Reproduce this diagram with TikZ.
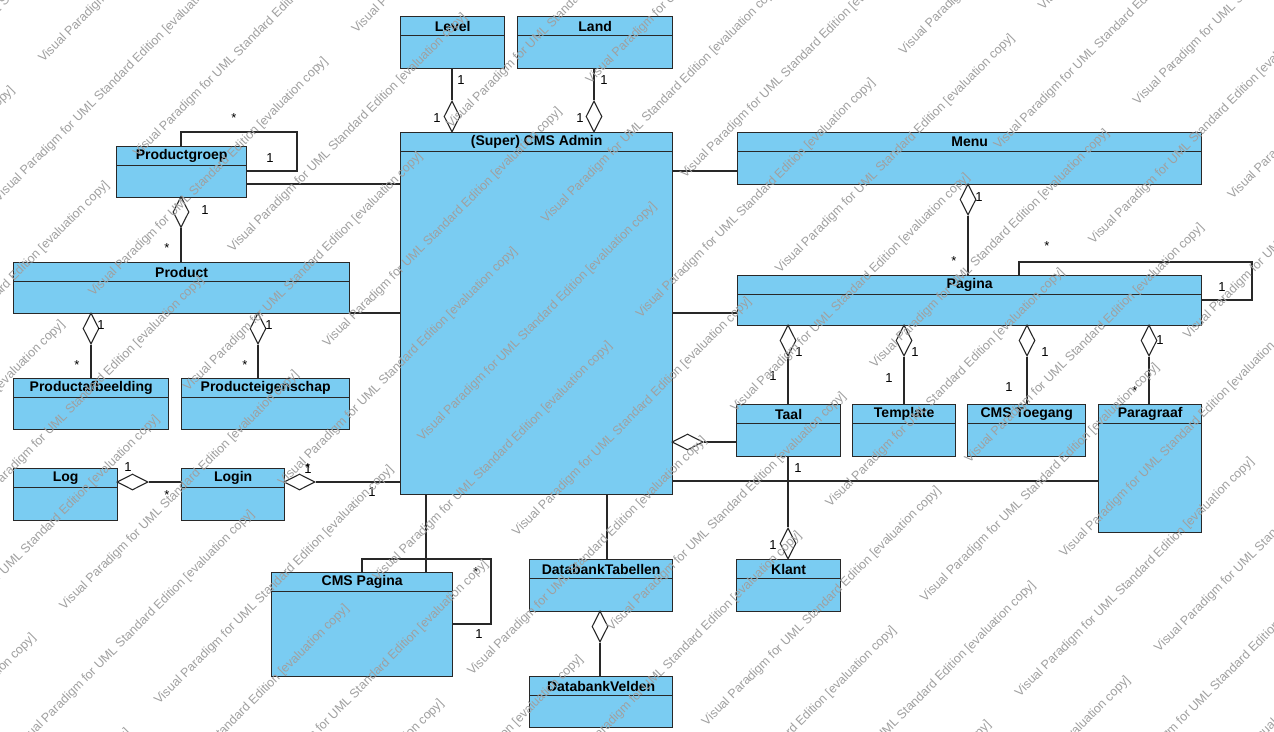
\documentclass[tikz,border=0pt]{standalone}
\usepackage{fontspec}
\setmainfont{Liberation Sans}
\usetikzlibrary{shapes.geometric}
\definecolor{clsfill}{RGB}{122,204,242}
\definecolor{lnc}{RGB}{40,40,40}
\definecolor{wmc}{RGB}{160,160,160}
\tikzset{
 clsbox/.style={draw=lnc, fill=clsfill, line width=1.3pt, rectangle, inner sep=0pt, anchor=north west},
 clsline/.style={draw=lnc, line width=1.1pt},
 clsname/.style={font=\fontsize{14}{16}\selectfont\bfseries, inner sep=0pt, text=black},
 conn/.style={draw=lnc, line width=1.1pt},
 agg/.style={shape=diamond, draw=lnc, fill=white, line width=1.1pt, inner sep=0pt},
 aggv/.style={agg, minimum width=16pt, minimum height=31pt},
 aggh/.style={agg, minimum width=31pt, minimum height=16pt},
 mult/.style={font=\fontsize{13}{15}\selectfont, inner sep=0pt, text=black},
 wm/.style={font=\fontsize{12.5}{14}\selectfont, text=wmc, rotate=45, anchor=base west, inner sep=0pt},
}
\newcommand{\umlclass}[6]{%
 \node[clsbox, minimum width={#4-#2}, minimum height={#5-#3}] (#1) at (#2,#3) {};
 \draw[clsline] ([yshift=-19.5pt]#1.north west) -- ([yshift=-19.5pt]#1.north east);
 \node[clsname] (#1-name) at ([yshift=-10pt]#1.north) {#6};
}
\begin{document}
\begin{tikzpicture}[x=1pt,y=-1pt]
\useasboundingbox (0,0) rectangle (1274,731);
\fill[white] (0,0) rectangle (1274,731);
% classes
\umlclass{level}{400}{16}{504}{68}{Level}
\umlclass{land}{517}{16}{672}{68}{Land}
\umlclass{admin}{400}{132}{672}{494}{(Super) CMS Admin}
\umlclass{pgroep}{116}{146}{246}{197}{Productgroep}
\umlclass{product}{13}{262}{349}{313}{Product}
\umlclass{pafb}{13}{378}{168}{429}{Productafbeelding}
\umlclass{peig}{181}{378}{349}{429}{Producteigenschap}
\umlclass{log}{13}{468}{117}{520}{Log}
\umlclass{login}{181}{468}{284}{520}{Login}
\umlclass{menu}{737}{132}{1201}{184}{Menu}
\umlclass{pagina}{737}{275}{1201}{325}{Pagina}
\umlclass{taal}{736}{404}{840}{456}{Taal}
\umlclass{template}{852}{404}{955}{456}{Template}
\umlclass{toegang}{967}{404}{1085}{456}{CMS Toegang}
\umlclass{paragraaf}{1098}{404}{1201}{532}{Paragraaf}
\umlclass{klant}{736}{559}{840}{611}{Klant}
\umlclass{cmspag}{271}{572}{452}{676}{CMS Pagina}
\umlclass{dbtab}{529}{559}{672}{611}{DatabankTabellen}
\umlclass{dbveld}{529}{676}{672}{727}{DatabankVelden}
% helper coordinates
\coordinate (y171) at (0,171);
\coordinate (y184) at (0,184);
\coordinate (y313) at (0,313);
\coordinate (y481) at (0,481);
\coordinate (x426) at (426,0);
\coordinate (x607) at (607,0);
% diamonds
\node[aggv] (dlevel) at (452,116.5) {};
\node[aggv] (dland) at (594,116.5) {};
\node[aggv] (dpgroep) at (181,212) {};
\node[aggv] (dpafb) at (91,328.5) {};
\node[aggv] (dpeig) at (258,328.5) {};
\node[aggh] (dlog) at (132.5,482) {};
\node[aggh] (dlogin) at (299.5,482) {};
\node[aggv] (dmenu) at (968,199.5) {};
\node[aggv] (dtaal) at (788,340.5) {};
\node[aggv] (dtmpl) at (904,340.5) {};
\node[aggv] (dtoeg) at (1027,340.5) {};
\node[aggv] (dpara) at (1149,340.5) {};
\node[aggh] (dtaaladm) at (687.5,442) {};
\node[aggv] (dklant) at (788,543.5) {};
\node[aggv] (ddb) at (600,626.5) {};
% connectors
\begin{scope}[every path/.style={conn}]
\draw (level.south -| dlevel) -- (dlevel.north);
\draw (land.south -| dland) -- (dland.north);
\draw (dpgroep.south) -- (product.north -| dpgroep);
\draw (dpafb.south) -- (pafb.north -| dpafb);
\draw (dpeig.south) -- (peig.north -| dpeig);
\draw (dlog.east) -- (login.west |- dlog.east);
\draw (dlogin.east) -- (admin.west |- dlogin.east);
\draw (pgroep.east |- y184) -- (admin.west |- y184);
\draw (product.east |- y313) -- (admin.west |- y313);
\draw (admin.east |- y171) -- (menu.west |- y171);
\draw (admin.east |- y313) -- (pagina.west |- y313);
\draw (dmenu.south) -- (pagina.north -| dmenu);
\draw (dtaal.south) -- (taal.north -| dtaal);
\draw (dtmpl.south) -- (template.north -| dtmpl);
\draw (dtoeg.south) -- (toegang.north -| dtoeg);
\draw (dpara.south) -- (paragraaf.north -| dpara);
\draw (dtaaladm.east) -- (taal.west |- dtaaladm.east);
\draw (admin.east |- y481) -- (paragraaf.west |- y481);
\draw (taal.south -| dklant) -- (dklant.north);
\draw (admin.south -| x426) -- (cmspag.north -| x426);
\draw (admin.south -| x607) -- (dbtab.north -| x607);
\draw (ddb.south) -- (dbveld.north -| ddb);
% self loops
\draw ([xshift=65pt]pgroep.north west) |- (297,132) |- ([yshift=-25pt]pgroep.north east);
\draw ([xshift=282pt]pagina.north west) |- (1252,262) |- ([yshift=-25pt]pagina.north east);
\draw ([xshift=91pt]cmspag.north west) |- (491,559) |- ([yshift=-52pt]cmspag.north east);
\end{scope}
% multiplicities
\node[mult] (m1) at (461,80) {1};
\node[mult] (m2) at (437,118) {1};
\node[mult] (m3) at (604,80) {1};
\node[mult] (m4) at (580,118) {1};
\node[mult] (m5) at (234,118) {*};
\node[mult] (m6) at (270,158) {1};
\node[mult] (m7) at (205,210) {1};
\node[mult] (m8) at (167,248) {*};
\node[mult] (m9) at (101,325) {1};
\node[mult] (m10) at (77,365) {*};
\node[mult] (m11) at (269,325) {1};
\node[mult] (m12) at (245,365) {*};
\node[mult] (m13) at (128,467) {1};
\node[mult] (m14) at (167,495) {*};
\node[mult] (m15) at (308,469) {1};
\node[mult] (m16) at (308,468) {*};
\node[mult] (m17) at (372,492) {1};
\node[mult] (m18) at (979,197) {1};
\node[mult] (m19) at (954,261) {*};
\node[mult] (m20) at (1047,246) {*};
\node[mult] (m21) at (1222,287) {1};
\node[mult] (m22) at (799,352) {1};
\node[mult] (m23) at (773,376) {1};
\node[mult] (m24) at (915,352) {1};
\node[mult] (m25) at (889,378) {1};
\node[mult] (m26) at (1045,352) {1};
\node[mult] (m27) at (1009,387) {1};
\node[mult] (m28) at (1160,340) {1};
\node[mult] (m29) at (1135,391) {*};
\node[mult] (m30) at (798,468) {1};
\node[mult] (m31) at (773,545) {1};
\node[mult] (m32) at (476,572) {*};
\node[mult] (m33) at (479,634) {1};
% watermark
\begin{scope}
\clip (0,0) rectangle (1274,731);
\foreach \k in {-2,...,21}{
  \foreach \m in {-3,...,3}{
    \pgfmathsetmacro{\pp}{75+67*\k}
    \pgfmathsetmacro{\aa}{ifthenelse(mod(\k+100,2)==1,228,-14)+372*\m}
    \pgfmathsetmacro{\xx}{0.7071*(\aa+\pp)}
    \pgfmathsetmacro{\yy}{0.7071*(\pp-\aa)}
    \node[wm] (wm-\k-\m) at (\xx,\yy) {Visual Paradigm for UML Standard Edition [evaluation copy]};
  }
}
\end{scope}
\end{tikzpicture}
\end{document}
